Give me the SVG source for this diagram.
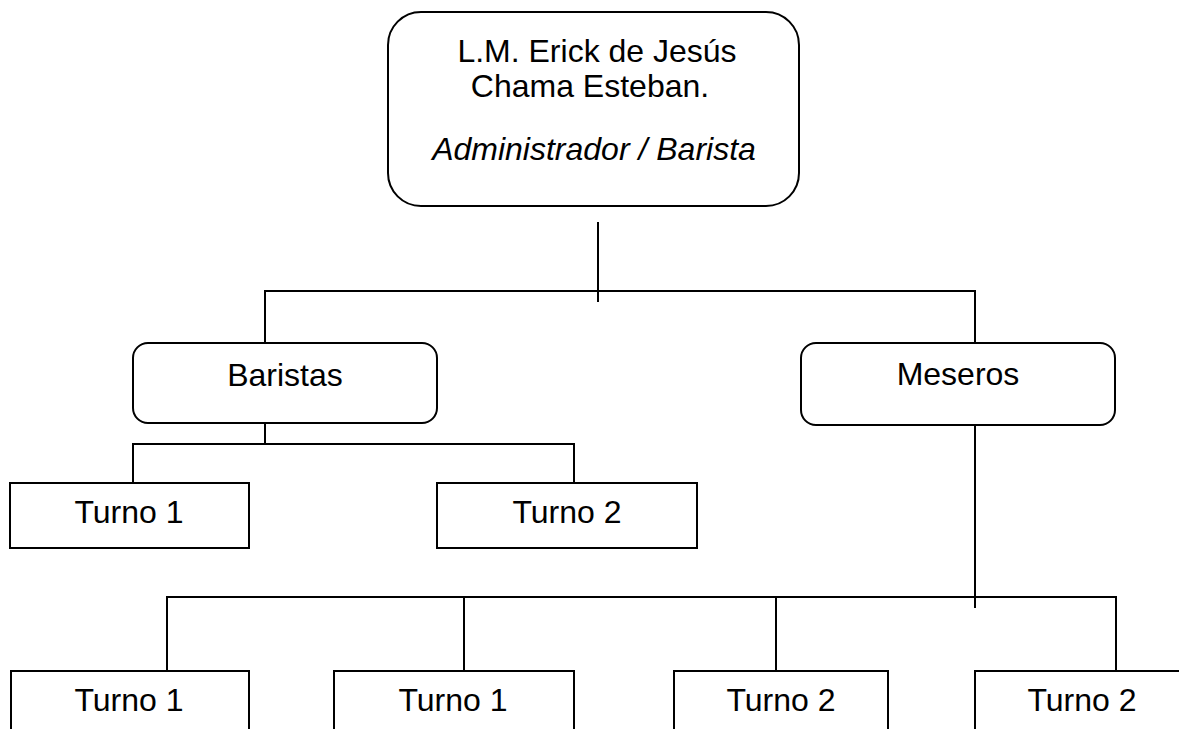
<svg xmlns="http://www.w3.org/2000/svg" width="1179" height="729" viewBox="0 0 1179 729">
<style>
.box{fill:#fff;stroke:#000;stroke-width:2}
.t{font-family:"Liberation Sans",Arial,sans-serif;font-size:32px;fill:#000;text-anchor:middle}
.it{font-style:italic}
#connectors line{stroke:#000;stroke-width:2;fill:none}
</style>
<rect width="1179" height="729" fill="#fff"/>
<g id="connectors">
<line x1="598" y1="222" x2="598" y2="302"/>
<line x1="264" y1="291" x2="975" y2="291"/>
<line x1="265" y1="290" x2="265" y2="343"/>
<line x1="975" y1="290" x2="975" y2="343"/>
<line x1="265" y1="413" x2="265" y2="444"/>
<line x1="132" y1="444" x2="575" y2="444"/>
<line x1="133" y1="443" x2="133" y2="489"/>
<line x1="574" y1="443" x2="574" y2="489"/>
<line x1="975" y1="415" x2="975" y2="608"/>
<line x1="166" y1="597" x2="1117" y2="597"/>
<line x1="167" y1="596" x2="167" y2="679"/>
<line x1="464" y1="596" x2="464" y2="679"/>
<line x1="776" y1="596" x2="776" y2="679"/>
<line x1="1116" y1="596" x2="1116" y2="679"/>
</g>
<g id="admin">
<rect class="box" x="388" y="12" width="411" height="194" rx="33"/>
<text class="t" x="597" y="62">L.M. Erick de Jesús</text>
<text class="t" x="590" y="97">Chama Esteban.</text>
<text class="t it" x="594" y="160">Administrador / Barista</text>
</g>
<g id="baristas">
<rect class="box" x="133" y="343" width="304" height="80" rx="15"/>
<text class="t" x="285" y="386">Baristas</text>
</g>
<g id="meseros">
<rect class="box" x="801" y="343" width="314" height="82" rx="15"/>
<text class="t" x="958" y="385">Meseros</text>
</g>
<g id="b-turno1">
<rect class="box" x="10" y="483" width="239" height="65"/>
<text class="t" x="129" y="523">Turno 1</text>
</g>
<g id="b-turno2">
<rect class="box" x="437" y="483" width="260" height="65"/>
<text class="t" x="567" y="523">Turno 2</text>
</g>
<g id="m-turno1a">
<rect class="box" x="11" y="671" width="238" height="80"/>
<text class="t" x="129" y="711">Turno 1</text>
</g>
<g id="m-turno1b">
<rect class="box" x="334" y="671" width="240" height="80"/>
<text class="t" x="453" y="711">Turno 1</text>
</g>
<g id="m-turno2a">
<rect class="box" x="674" y="671" width="214" height="80"/>
<text class="t" x="781" y="711">Turno 2</text>
</g>
<g id="m-turno2b">
<rect class="box" x="975" y="671" width="213" height="80"/>
<text class="t" x="1082" y="711">Turno 2</text>
</g>
</svg>
